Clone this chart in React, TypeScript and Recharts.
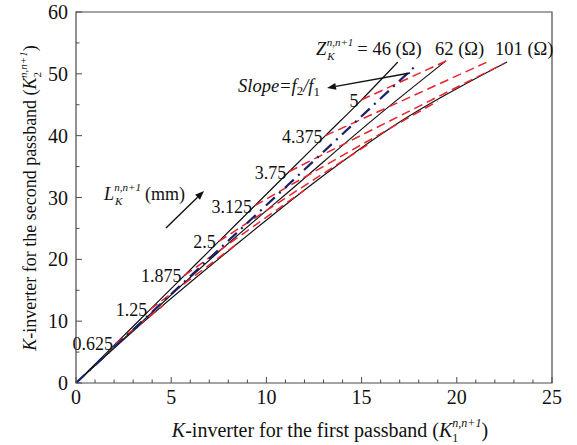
import React from 'react';
import { LineChart, Line, XAxis, YAxis, ReferenceArea } from 'recharts';

const W = 577;
const H = 445;
const PLOT = { left: 76, top: 12, right: 552, bottom: 383 };
const X_MAX = 25;
const Y_MAX = 60;

const FONT = "'Liberation Serif', 'Times New Roman', serif";
const AXIS = '#4a4a4a';
const BLACK = '#111111';
const RED = '#e8232b';
const NAVY = '#18206a';

// Axis ticks
const xTicks = [0, 1, 2, 3, 4, 5, 6, 7, 8, 9, 10, 11, 12, 13, 14, 15, 16, 17, 18, 19, 20, 21, 22, 23, 24, 25];
const xLabelled = [0, 5, 10, 15, 20, 25];
const yTicks = [0, 5, 10, 15, 20, 25, 30, 35, 40, 45, 50, 55, 60];
const yLabelled = [0, 10, 20, 30, 40, 50, 60];

// Constant-impedance curves: K1 (first passband) vs K2 (second passband)
const impedanceLabels = ['46 (Ω)', '62 (Ω)', '101 (Ω)'];
const z46K1 = [0, 2.1, 3.9, 5.7, 7.5, 9.4, 11.2, 13.1, 15.0, 16.9];
const z46K2 = [0, 6.4, 11.9, 17.4, 22.9, 28.7, 34.2, 40.0, 45.8, 51.9];
const z62K1 = [0, 3.5, 7.6, 11.8, 15.6, 19.43];
const z62K2 = [0, 10.0, 21.5, 32.6, 42.6, 52.1];
const z101K1 = [0, 3.6, 8.1, 12.5, 17.0, 22.64];
const z101K2 = [0, 10.0, 21.6, 32.4, 42.2, 51.9];

// Constant-length curves, L = 0.625 ... 5 mm (start on the 46 Ω curve)
const lengthLabels = ['0.625', '1.25', '1.875', '2.5', '3.125', '3.75', '4.375', '5'];
const isoStartK1 = [2.1, 3.9, 5.7, 7.5, 9.4, 11.2, 13.1, 15.0];
const isoStartK2 = [6.4, 11.9, 17.4, 22.9, 28.7, 34.2, 40.0, 45.8];
const isoEndK1 = [4.6, 8.5, 12.0, 15.5, 19.0, 22.5, 21.8, 19.45];
const isoEndK2 = [12.6, 22.6, 31.2, 38.9, 45.6, 51.7, 52.2, 52.1];

// Slope = f2/f1 reference line
const slopeK1 = [0, 17.8];
const slopeK2 = [0, 51.2];

const toPoints = (xs: number[], ys: number[]) => xs.map((x, i) => ({ x, y: ys[i] }));

const px = (k1: number) => PLOT.left + (k1 / X_MAX) * (PLOT.right - PLOT.left);
const py = (k2: number) => PLOT.bottom - (k2 / Y_MAX) * (PLOT.bottom - PLOT.top);

const XTick = (props: any) => {
  const { x, y, payload } = props;
  const v = payload.value as number;
  const major = xLabelled.includes(v);
  return (
    <g>
      <line x1={x} x2={x} y1={y} y2={y - (major ? 6 : 3.5)} stroke={AXIS} strokeWidth={1} />
      {major && (
        <text x={x} y={y + 21} textAnchor="middle" fontFamily={FONT} fontSize={20} fill="#111">
          {v}
        </text>
      )}
    </g>
  );
};

const YTick = (props: any) => {
  const { x, y, payload } = props;
  const v = payload.value as number;
  const major = yLabelled.includes(v);
  return (
    <g>
      <line x1={x} x2={x + (major ? 6 : 3.5)} y1={y} y2={y} stroke={AXIS} strokeWidth={1} />
      {major && (
        <text x={x - 8} y={y + 7} textAnchor="end" fontFamily={FONT} fontSize={20} fill="#111">
          {v}
        </text>
      )}
    </g>
  );
};

const Arrow = ({ x1, y1, x2, y2 }: { x1: number; y1: number; x2: number; y2: number }) => {
  const a = Math.atan2(y2 - y1, x2 - x1);
  const len = 9;
  const half = 3.5;
  const bx = x2 - len * Math.cos(a);
  const by = y2 - len * Math.sin(a);
  const nx = -Math.sin(a) * half;
  const ny = Math.cos(a) * half;
  return (
    <g>
      <line x1={x1} y1={y1} x2={bx} y2={by} stroke="#111" strokeWidth={1.4} />
      <polygon points={`${x2},${y2} ${bx + nx},${by + ny} ${bx - nx},${by - ny}`} fill="#111" />
    </g>
  );
};

const Annotations = () => (
  <svg
    width={W}
    height={H}
    style={{ position: 'absolute', left: 0, top: 0, pointerEvents: 'none' }}
    fontFamily={FONT}
    fill="#111"
  >
    {/* impedance labels */}
    <text x={316} y={55} fontSize={18.5}>
      <tspan fontStyle="italic">Z</tspan>
      <tspan fontSize={11} fontStyle="italic" dy={5} dx={1}>K</tspan>
      <tspan fontSize={11} fontStyle="italic" dy={-14} dx={-8}>n,n+1</tspan>
      <tspan dy={9} dx={4}>= {impedanceLabels[0]}</tspan>
    </text>
    <text x={435} y={55} fontSize={18.5}>{impedanceLabels[1]}</text>
    <text x={495} y={55} fontSize={18.5}>{impedanceLabels[2]}</text>

    {/* slope note */}
    <text x={238} y={92} fontSize={18.5} fontStyle="italic">
      Slope=f<tspan fontSize={13} fontStyle="normal" dy={3}>2</tspan>
      <tspan dy={-3}>/f</tspan>
      <tspan fontSize={13} fontStyle="normal" dy={4}>1</tspan>
    </text>
    <Arrow x1={410} y1={73} x2={327} y2={88} />

    {/* length labels along the 46 Ω curve */}
    {lengthLabels.map((t, i) => (
      <text key={t} x={px(isoStartK1[i]) - 3} y={py(isoStartK2[i]) + 7} textAnchor="end" fontSize={18}>
        {t}
      </text>
    ))}

    {/* length direction note */}
    <text x={104} y={200} fontSize={18}>
      <tspan fontStyle="italic">L</tspan>
      <tspan fontSize={11} fontStyle="italic" dy={5} dx={1}>K</tspan>
      <tspan fontSize={11} fontStyle="italic" dy={-14} dx={-8}>n,n+1</tspan>
      <tspan dy={9} dx={4}>(mm)</tspan>
    </text>
    <Arrow x1={166} y1={228} x2={204} y2={191} />

    {/* axis titles */}
    <text x={330} y={437} fontSize={20} textAnchor="middle">
      <tspan fontStyle="italic">K</tspan>
      <tspan>-inverter for the first passband (</tspan>
      <tspan fontStyle="italic">K</tspan>
      <tspan fontSize={12} dy={5}>1</tspan>
      <tspan fontSize={12} fontStyle="italic" dy={-15} dx={-6}>n,n+1</tspan>
      <tspan dy={10}>)</tspan>
    </text>
    <text x={36} y={198} fontSize={18} textAnchor="middle" transform="rotate(-90 36 198)">
      <tspan fontStyle="italic">K</tspan>
      <tspan>-inverter for the second passband (</tspan>
      <tspan fontStyle="italic">K</tspan>
      <tspan fontSize={11} dy={5}>2</tspan>
      <tspan fontSize={11} fontStyle="italic" dy={-14} dx={-6}>n,n+1</tspan>
      <tspan dy={9}>)</tspan>
    </text>
  </svg>
);

export default function App() {
  const impedanceCurves = [
    toPoints(z46K1, z46K2),
    toPoints(z62K1, z62K2),
    toPoints(z101K1, z101K2),
  ];
  const lengthCurves = lengthLabels.map((_, i) =>
    toPoints([isoStartK1[i], isoEndK1[i]], [isoStartK2[i], isoEndK2[i]])
  );
  const slopeLine = toPoints(slopeK1, slopeK2);

  return (
    <div style={{ position: 'relative', width: W, height: H, background: '#fff' }}>
      <style>{'body{margin:0;background:#fff}'}</style>
      <LineChart
        width={W}
        height={H}
        margin={{ top: PLOT.top, right: W - PLOT.right, bottom: 0, left: 0 }}
      >
        <XAxis
          type="number"
          dataKey="x"
          domain={[0, X_MAX]}
          ticks={xTicks}
          interval={0}
          height={H - PLOT.bottom}
          tickSize={0}
          tickMargin={0}
          tickLine={false}
          axisLine={false}
          tick={<XTick />}
          allowDataOverflow
        />
        <YAxis
          type="number"
          domain={[0, Y_MAX]}
          ticks={yTicks}
          interval={0}
          width={PLOT.left}
          tickSize={0}
          tickMargin={0}
          tickLine={false}
          axisLine={false}
          tick={<YTick />}
          allowDataOverflow
        />
        <ReferenceArea x1={0} x2={X_MAX} y1={0} y2={Y_MAX} fill="none" stroke={AXIS} strokeWidth={1.2} ifOverflow="visible" />
        {impedanceCurves.map((pts, i) => (
          <Line
            key={`z${i}`}
            data={pts}
            dataKey="y"
            type="monotone"
            stroke={BLACK}
            strokeWidth={1.2}
            dot={false}
            activeDot={false}
            isAnimationActive={false}
          />
        ))}
        {lengthCurves.map((pts, i) => (
          <Line
            key={`l${i}`}
            data={pts}
            dataKey="y"
            type="linear"
            stroke={RED}
            strokeWidth={1.5}
            strokeDasharray="9 5"
            dot={false}
            activeDot={false}
            isAnimationActive={false}
          />
        ))}
        <Line
          data={slopeLine}
          dataKey="y"
          type="linear"
          stroke={NAVY}
          strokeWidth={2.2}
          strokeDasharray="12 6 2 6"
          dot={false}
          activeDot={false}
          isAnimationActive={false}
        />
      </LineChart>
      <Annotations />
    </div>
  );
}
